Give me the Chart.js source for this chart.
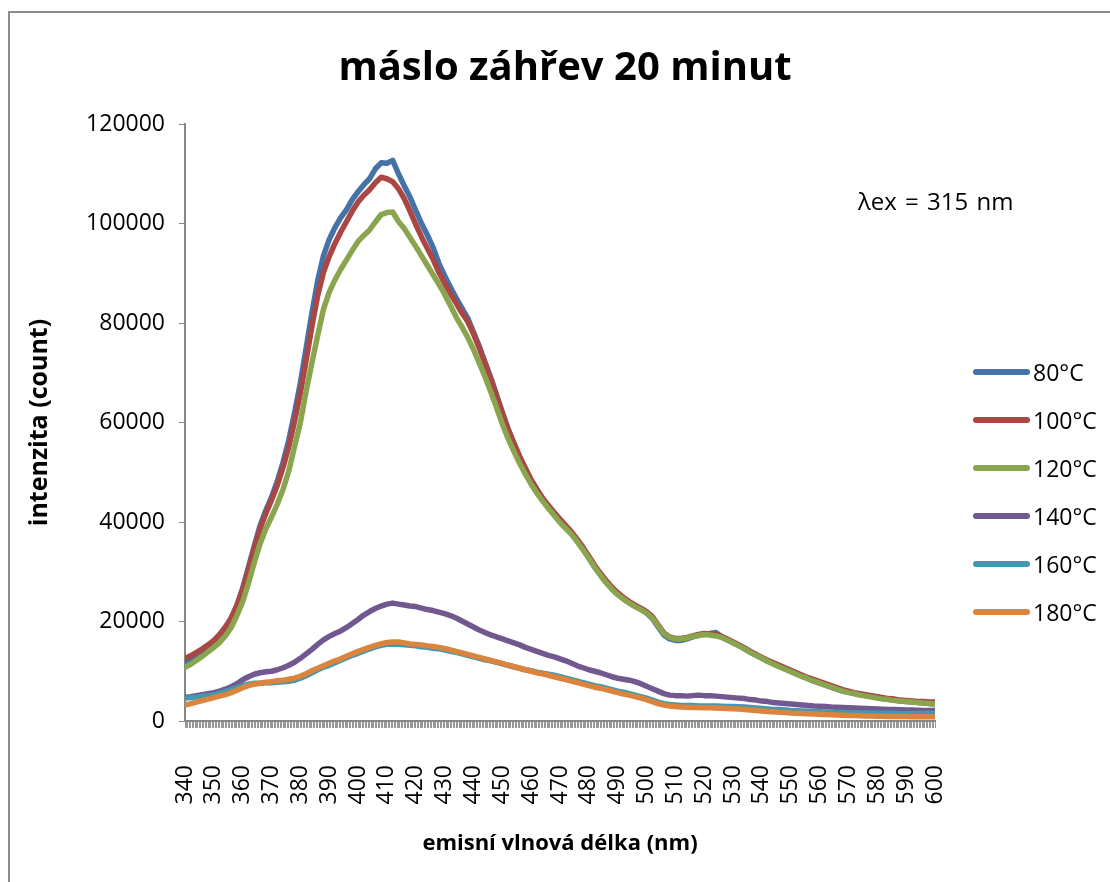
<!DOCTYPE html>
<html>
<head>
<meta charset="utf-8">
<title>máslo záhřev 20 minut</title>
<script src="https://cdn.jsdelivr.net/npm/chart.js@4.4.1/dist/chart.umd.min.js"></script>
<style>
  html, body { margin: 0; padding: 0; background: #fff; }
  #wrap { position: relative; width: 1110px; height: 882px; overflow: hidden; font-family: 'Open Sans', sans-serif; color: #000; }
  #frame { position: absolute; left: 8px; top: 11px; width: 1200px; height: 1000px; border: 2px solid #8c8c8c; box-sizing: border-box; }
  #c { position: absolute; left: 0; top: 0; }
  #title { position: absolute; left: 0; width: 1130px; top: 45px; text-align: center; font-weight: bold; font-size: 40px; line-height: 1; white-space: nowrap; }
  #note { position: absolute; left: 858px; top: 189px; font-size: 24px; line-height: 1; word-spacing: 2px; white-space: nowrap; }
  .lg { position: absolute; left: 973px; height: 24px; display: flex; align-items: center; }
  .lg .sw { width: 57px; height: 6px; border-radius: 3px; }
  .lg span { margin-left: 3px; font-size: 23px; line-height: 1; white-space: nowrap; }
</style>
</head>
<body>
<div id="wrap">
  <div id="frame"></div>
  <canvas id="c" width="1110" height="882"></canvas>
  <div id="title">máslo záhřev 20 minut</div>
  <div id="note">λex = 315 nm</div>
  <div id="legend"></div>
</div>
<script>
// emission wavelength (nm)
const wavelengths = [
  340,342,344,346,348,350,352,354,356,358,
  360,362,364,366,368,370,372,374,376,378,
  380,382,384,386,388,390,392,394,396,398,
  400,402,404,406,408,410,412,414,416,418,
  420,422,424,426,428,430,432,434,436,438,
  440,442,444,446,448,450,452,454,456,458,
  460,462,464,466,468,470,472,474,476,478,
  480,482,484,486,488,490,492,494,496,498,
  500,502,504,506,508,510,512,514,516,518,
  520,522,524,526,528,530,532,534,536,538,
  540,542,544,546,548,550,552,554,556,558,
  560,562,564,566,568,570,572,574,576,578,
  580,582,584,586,588,590,592,594,596,598,
  600
];

const xTickLabels = [340,350,360,370,380,390,400,410,420,430,440,450,460,470,480,490,500,510,520,530,540,550,560,570,580,590,600];
const yTickStep = 20000;
const yMax = 120000;

const seriesNames = ['80°C', '100°C', '120°C', '140°C', '160°C', '180°C'];
const seriesColors = ['#4572A7', '#AA4643', '#89A54E', '#71588F', '#4198AF', '#DB843D'];

const s80 = [
  11800,12300,13000,13800,14700,15600,16800,18300,20500,23200,
  26700,30900,35200,39200,42300,45000,48200,52000,56500,62000,
  68000,75000,82000,88500,93500,96800,99200,101200,102800,104800,
  106400,107800,109000,111000,112200,112100,112700,110000,107600,105300,
  102600,100000,97700,95200,92000,89500,87200,85000,83000,81000,
  78200,75300,72100,69000,65500,62000,58600,55700,53000,50600,
  48300,46400,44500,43000,41600,40300,39000,37700,36200,34600,
  32800,31000,29400,27900,26600,25500,24600,23800,23100,22500,
  21700,20600,18900,17300,16500,16200,16200,16500,16900,17200,
  17500,17600,17800,17000,16300,15700,15200,14500,13800,13200,
  12600,12000,11500,11000,10500,10000,9500,9000,8500,8000,
  7600,7200,6800,6400,6000,5800,5500,5300,5100,4900,
  4700,4500,4300,4200,4000,3900,3800,3700,3600,3500,
  3400
];
const s100 = [
  12600,13100,13800,14500,15300,16200,17400,18900,20700,23300,
  26500,30500,34700,38600,41700,44400,47400,51000,55200,60300,
  66000,72500,79300,85500,90200,93400,96000,98300,100400,102500,
  104300,105700,106800,108200,109300,109000,108400,107000,105000,102500,
  99800,97300,95000,92800,90200,88000,85900,84000,82000,80300,
  77800,75000,71900,68800,65400,62000,58700,55900,53200,50800,
  48500,46600,44800,43300,41900,40600,39300,38000,36500,34900,
  33100,31300,29700,28200,26900,25800,24800,24000,23300,22700,
  22000,21000,19300,17700,16900,16600,16600,16800,17100,17400,
  17600,17500,17400,17000,16500,15900,15300,14700,14000,13400,
  12800,12200,11700,11200,10700,10200,9700,9200,8700,8300,
  7900,7500,7100,6700,6300,6000,5700,5500,5300,5100,
  4900,4700,4500,4400,4200,4100,4000,3900,3900,3800,
  3800
];
const s120 = [
  10800,11400,12200,13000,13900,14800,15800,17100,18800,21200,
  24000,27700,31800,35600,38600,41000,43600,46600,50300,55200,
  60000,66300,72000,77500,82800,86200,88700,90800,92700,94600,
  96400,97600,98700,100300,101800,102200,102300,100400,99000,97200,
  95400,93500,91600,89700,87800,85800,83500,81200,79200,77100,
  74700,72000,69200,66200,63000,59700,56800,54200,51800,49600,
  47600,45800,44200,42700,41300,39900,38700,37500,36000,34400,
  32700,30900,29300,27800,26500,25400,24500,23700,23000,22400,
  21700,20700,19100,17600,16800,16500,16500,16700,17000,17200,
  17400,17300,17100,16800,16300,15700,15100,14500,13800,13200,
  12600,12000,11400,10900,10400,9900,9400,8900,8500,8000,
  7600,7200,6800,6400,6000,5700,5500,5200,5000,4800,
  4600,4400,4300,4100,4000,3900,3800,3700,3600,3500,
  3400
];
const s140 = [
  4800,4900,5100,5300,5500,5700,6000,6400,6900,7500,
  8300,8900,9400,9700,9900,10000,10300,10700,11200,11800,
  12600,13500,14400,15400,16300,17000,17600,18100,18800,19600,
  20400,21300,22000,22600,23100,23500,23700,23500,23300,23100,
  23000,22700,22400,22200,21900,21600,21200,20700,20100,19500,
  18900,18300,17800,17300,16900,16500,16100,15700,15300,14800,
  14400,14000,13600,13200,12900,12500,12100,11600,11100,10700,
  10300,10000,9700,9300,8900,8600,8400,8200,7900,7500,
  7000,6500,6000,5500,5200,5100,5100,5000,5100,5200,
  5100,5100,5000,4900,4800,4700,4600,4500,4300,4200,
  4000,3900,3700,3600,3500,3400,3300,3200,3100,3000,
  2950,2900,2800,2750,2700,2650,2600,2550,2500,2450,
  2400,2350,2300,2300,2250,2200,2200,2150,2100,2100,
  2100
];
const s160 = [
  4600,4700,4800,5000,5100,5300,5600,5900,6300,6700,
  7100,7400,7600,7600,7700,7700,7800,7900,8000,8200,
  8600,9100,9700,10300,10800,11200,11700,12200,12700,13200,
  13600,14100,14500,14900,15200,15400,15500,15400,15300,15200,
  15100,14900,14800,14600,14500,14300,14000,13800,13500,13200,
  12900,12600,12300,12100,11800,11500,11200,10900,10600,10300,
  10100,9800,9600,9400,9200,8900,8600,8300,8000,7700,
  7400,7100,6900,6600,6300,6000,5800,5500,5200,4900,
  4600,4200,3800,3500,3300,3200,3100,3100,3100,3000,
  3000,3000,3000,2950,2900,2900,2850,2800,2700,2600,
  2500,2400,2300,2300,2200,2100,2050,2000,1950,1900,
  1850,1800,1750,1700,1700,1650,1650,1600,1600,1600,
  1550,1550,1550,1500,1500,1500,1500,1500,1500,1500,
  1500
];
const s180 = [
  3200,3500,3800,4100,4400,4700,5000,5300,5700,6200,
  6700,7100,7400,7600,7800,7900,8100,8200,8400,8600,
  9000,9500,10100,10600,11100,11600,12100,12500,13000,13500,
  14000,14400,14800,15200,15500,15800,15900,15900,15700,15500,
  15400,15300,15100,15000,14800,14600,14300,14000,13700,13400,
  13100,12800,12500,12200,11900,11600,11200,10900,10600,10300,
  10000,9700,9500,9200,8900,8600,8300,8000,7700,7400,
  7100,6800,6600,6300,6000,5700,5400,5200,4900,4600,
  4300,3900,3500,3200,3000,2900,2800,2750,2700,2700,
  2650,2650,2600,2550,2500,2450,2400,2300,2200,2100,
  2000,1900,1850,1750,1700,1600,1550,1500,1450,1400,
  1350,1300,1250,1200,1150,1100,1100,1050,1000,1000,
  950,950,900,900,900,880,870,860,860,850,
  850
];

const seriesValues = [s80, s100, s120, s140, s160, s180];

// legend on the right
const legendTops = [372, 420, 468, 516, 564, 612];
const legendEl = document.getElementById('legend');
seriesNames.forEach((name, i) => {
  const item = document.createElement('div');
  item.className = 'lg';
  item.style.top = (legendTops[i] - 12) + 'px';
  const sw = document.createElement('div');
  sw.className = 'sw';
  sw.style.background = seriesColors[i];
  const tx = document.createElement('span');
  tx.textContent = name;
  item.appendChild(sw);
  item.appendChild(tx);
  legendEl.appendChild(item);
});

Chart.defaults.font.family = "'Open Sans', sans-serif";
Chart.defaults.color = '#000';

const datasets = seriesNames.map((name, i) => ({
  label: name,
  data: wavelengths.map((w, k) => ({ x: w, y: seriesValues[i][k] })),
  borderColor: seriesColors[i],
  backgroundColor: seriesColors[i],
  borderWidth: 5.5,
  pointRadius: 0,
  tension: 0,
  fill: false,
  borderCapStyle: 'round',
  borderJoinStyle: 'round',
  order: seriesNames.length - 1 - i
}));

new Chart(document.getElementById('c'), {
  type: 'line',
  data: { datasets },
  options: {
    responsive: false,
    animation: false,
    devicePixelRatio: 1,
    layout: { padding: { top: 124, right: 175, bottom: 0, left: 0 } },
    plugins: { legend: { display: false }, tooltip: { enabled: false }, title: { display: false } },
    scales: {
      x: {
        type: 'linear',
        min: 340,
        max: 600,
        afterFit(scale) { scale.height = 161; },
        grid: { drawOnChartArea: false, drawTicks: true, tickLength: 7, color: '#9a9a9a', lineWidth: 1 },
        border: { color: '#878787', width: 2 },
        ticks: {
          stepSize: 0.5,
          autoSkip: false,
          minRotation: 90,
          maxRotation: 90,
          padding: 37,
          font: { size: 23 },
          color: '#000',
          callback: (v) => xTickLabels.includes(v) ? String(v) : ''
        },
        title: { display: true, text: 'emisní vlnová délka (nm)', font: { size: 22, weight: 'bold' }, color: '#000', padding: { top: 0, bottom: 25 } }
      },
      y: {
        min: 0,
        max: yMax,
        afterFit(scale) { scale.width = 185; },
        grid: { drawOnChartArea: false, drawTicks: true, tickLength: 6, color: '#878787' },
        border: { color: '#878787', width: 2 },
        ticks: { stepSize: yTickStep, padding: 14, font: { size: 23 }, color: '#000', callback: (v) => String(v) },
        title: { display: true, text: 'intenzita (count)', font: { size: 25, weight: 'bold' }, color: '#000', padding: { top: 25, bottom: 0 } }
      }
    }
  }
});
</script>
</body>
</html>
